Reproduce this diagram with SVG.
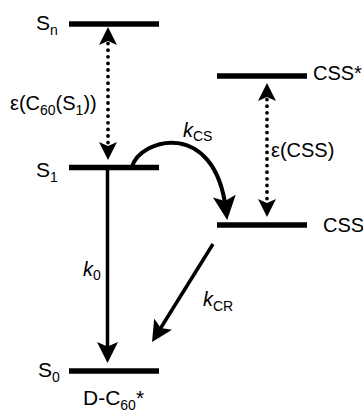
<svg xmlns="http://www.w3.org/2000/svg" width="363" height="412" viewBox="0 0 363 412">
<style>
text{font-family:"Liberation Sans",Arial,sans-serif;font-size:20px;fill:#000}
.sub{font-size:14px}
.big{font-size:21px}
.lvl{stroke:#000;stroke-width:5.5;fill:none}
.solid{stroke:#000;stroke-width:3.5;fill:none}
.dot{stroke:#000;stroke-width:3.8;fill:none;stroke-dasharray:0 6.6;stroke-linecap:round}
</style>
<defs>
<marker id="hd" markerUnits="userSpaceOnUse" viewBox="0 0 21 21" markerWidth="21" markerHeight="21" refX="11" refY="10.5" orient="auto-start-reverse">
<path d="M0,0 L21,10.5 L0,21 L4.5,10.5 Z" fill="#000"/>
</marker>
<marker id="hb" markerUnits="userSpaceOnUse" viewBox="0 0 24 23" markerWidth="24" markerHeight="23" refX="14" refY="11.5" orient="auto">
<path d="M0,0 L24,11.5 L0,23 L5,11.5 Z" fill="#000"/>
</marker>
<marker id="hs" markerUnits="userSpaceOnUse" viewBox="0 0 18 18" markerWidth="18" markerHeight="18" refX="8" refY="9" orient="auto-start-reverse">
<path d="M0,0 L18,9 L0,18 L4,9 Z" fill="#000"/>
</marker>
</defs>
<g id="Sn"><path class="lvl" d="M69,24 H159"/><text x="36" y="30"><tspan class="big">S</tspan><tspan class="sub" dy="5">n</tspan></text></g>
<g id="S1"><path class="lvl" d="M69,167.5 H159"/><text x="36" y="177"><tspan class="big">S</tspan><tspan class="sub" dy="5">1</tspan></text></g>
<g id="S0"><path class="lvl" d="M69,371 H159"/><text x="38" y="377"><tspan class="big">S</tspan><tspan class="sub" dy="5">0</tspan></text><text x="83" y="405" class="big">D-C<tspan class="sub" dy="5">60</tspan><tspan dy="-5">*</tspan></text></g>
<g id="CSSstar"><path class="lvl" d="M217,76 H307"/><text x="313" y="80">CSS*</text></g>
<g id="CSS"><path class="lvl" d="M217,225 H307"/><text x="323" y="232">CSS</text></g>
<g id="connectors">
<path class="dot" d="M108,37 L108,150" marker-start="url(#hs)" marker-end="url(#hs)"/>
<text x="10" y="110">ε(C<tspan class="sub" dy="5">60</tspan><tspan dy="-5">(S</tspan><tspan class="sub" dy="5">1</tspan><tspan dy="-5">))</tspan></text>
<path class="dot" d="M267,93 L267,207" marker-start="url(#hs)" marker-end="url(#hs)"/>
<text x="271" y="157">ε(CSS)</text>
<path class="solid" d="M107.5,170 L107.5,353" marker-end="url(#hd)"/>
<text x="83" y="276"><tspan font-style="italic">k</tspan><tspan class="sub" dy="4">0</tspan></text>
<path class="solid" style="stroke-width:4" d="M132,167 C140,138 215,118 226,210" marker-end="url(#hb)"/>
<text x="183" y="137"><tspan font-style="italic">k</tspan><tspan class="sub" dy="4">CS</tspan></text>
<path class="solid" d="M213,244 L157.3,333.5" marker-end="url(#hd)"/>
<text x="203" y="306"><tspan font-style="italic">k</tspan><tspan class="sub" dy="5">CR</tspan></text>
</g>
</svg>
